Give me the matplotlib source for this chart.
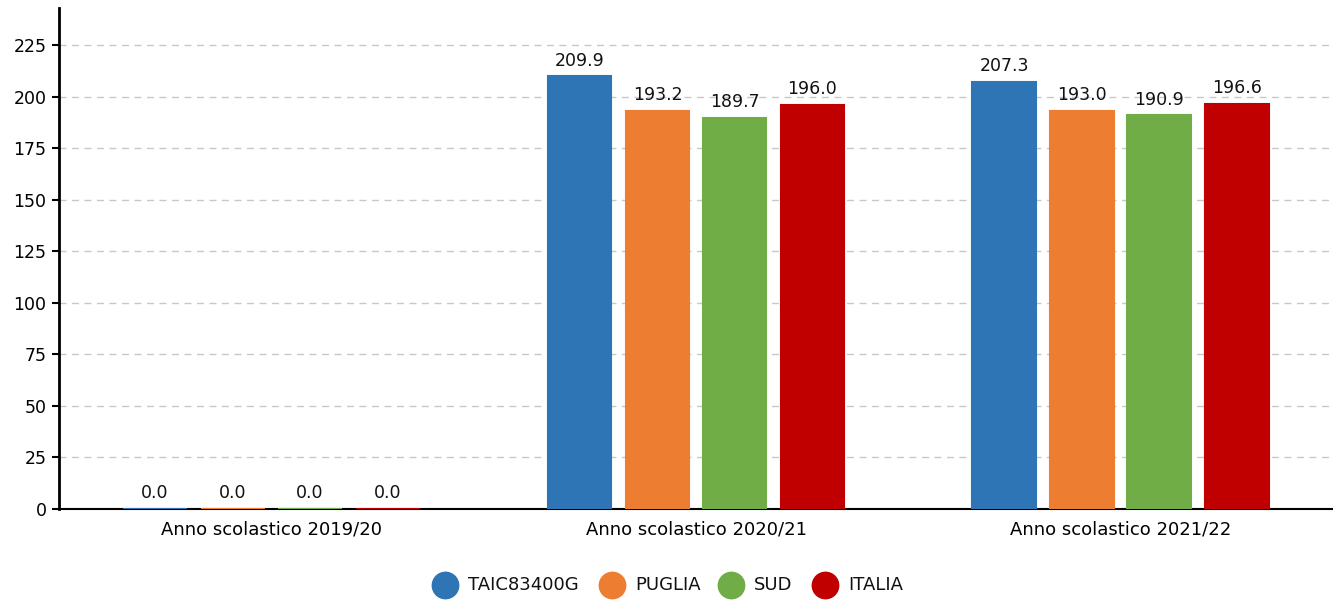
import matplotlib
matplotlib.use("Agg")
import matplotlib.pyplot as plt
import numpy as np

plt.rcParams['font.family'] = ['DejaVu Sans']

categories = ["Anno scolastico 2019/20", "Anno scolastico 2020/21", "Anno scolastico 2021/22"]
series_names = ["TAIC83400G", "PUGLIA", "SUD", "ITALIA"]
taic = [0.0, 209.9, 207.3]
puglia = [0.0, 193.2, 193.0]
sud = [0.0, 189.7, 190.9]
italia = [0.0, 196.0, 196.6]
yticks = [0, 25, 50, 75, 100, 125, 150, 175, 200, 225]

colors = ["#2E75B6", "#ED7D31", "#70AD47", "#C00000"]
series = [taic, puglia, sud, italia]

W, H = 1333, 603
fig = plt.figure(figsize=(W / 100, H / 100), dpi=100)
ax = fig.add_axes([59 / W, 94 / H, 1 - 59 / W, (509 - 8) / H])

x = np.arange(len(categories))
offsets = [-0.2741, -0.0906, 0.0906, 0.2741]
width = 0.15
for vals, off, col in zip(series, offsets, colors):
    ax.bar(x + off, vals, width=width, color=col, zorder=3,
           edgecolor=col, linewidth=1.5)
    for xi, v in zip(x + off, vals):
        ax.text(xi, v + 3.2, f"{v:.1f}", ha="center", va="bottom", fontsize=12.5,
                color="#111111", zorder=4)

ax.set_xlim(-0.5, 2.5)
ax.set_ylim(0, 243)
ax.set_yticks(yticks)
ax.set_yticklabels([str(t) for t in yticks], fontsize=12.5)
ax.set_xticks(x)
ax.set_xticklabels(categories, fontsize=13)
ax.tick_params(axis="x", length=0, pad=8)
ax.tick_params(axis="y", length=5, width=1.5, pad=4, direction="out")
ax.yaxis.grid(True, linestyle=(0, (5, 4)), color="#c8c8c8", linewidth=1, zorder=0)
ax.set_axisbelow(True)
for s in ["top", "right"]:
    ax.spines[s].set_visible(False)
ax.spines["left"].set_linewidth(2)
ax.spines["bottom"].set_linewidth(1.5)
ax.spines["left"].set_zorder(5)
ax.spines["bottom"].set_zorder(2)

# legend drawn manually in figure pixel coordinates
leg_y = 1 - 585 / H
marker_x = [445, 612, 731, 825]
for mx, name, col in zip(marker_x, series_names, colors):
    fig.lines.append(plt.Line2D([mx / W], [leg_y], marker="o", markersize=19,
                                markerfacecolor=col, markeredgecolor=col,
                                linestyle="none", transform=fig.transFigure))
    fig.text((mx + 23) / W, leg_y, name, ha="left", va="center", fontsize=13,
             color="#111111")

fig.savefig("out.png", dpi=100)
